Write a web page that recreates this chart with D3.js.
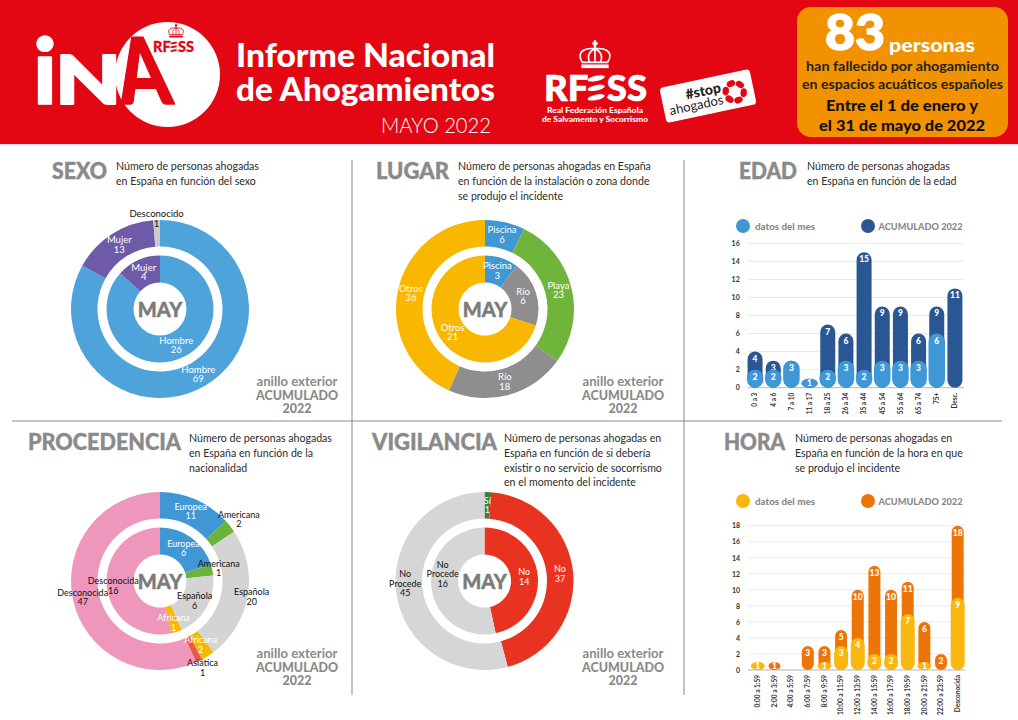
<!DOCTYPE html>
<html lang="es">
<head>
<meta charset="utf-8">
<title>Informe Nacional de Ahogamientos - Mayo 2022</title>
<script src="https://cdn.jsdelivr.net/npm/d3@7"></script>
<style>
  body { margin: 0; background: #fff; }
  svg { display: block; }
  text { font-family: Lato, "Open Sans", sans-serif; }
  .slice-label { text-anchor: middle; }
  .may { font-size: 20px; font-weight: 900; fill: #7b7b7b; stroke: #7b7b7b; stroke-width: 0.4; text-anchor: middle; }
  .section { font-size: 22px; font-weight: 900; fill: #8a8a8a; stroke: #8a8a8a; stroke-width: 0.4; }
  .desc { font-size: 10.6px; fill: #2b2b2b; }
  .ring-note { fill: #8a8a8a; text-anchor: middle; font-size: 12.5px; }
  .legend { fill: #8a8a8a; font-size: 10px; font-weight: 900; }
  .bar-label { font-size: 8.5px; font-weight: 900; fill: #fff; text-anchor: middle; }
  .axis text { font-size: 7px; font-weight: 700; fill: #333; }
  .axis path, .axis line { display: none; }
</style>
</head>
<body>
<div id="chart"></div>
<script>
// Sexo
const sexoNames = ["Hombre", "Mujer", "Desconocido"];
const sexoTotal = [69, 13, 1];
const sexoMonthNames = ["Hombre", "Mujer"];
const sexoMonth = [26, 4];
const sexoColors = ["#4fa3db", "#6f5aa8", "#cccccc"];
const sexoMonthColors = ["#4fa3db", "#6f5aa8"];

// Lugar
const lugarNames = ["Piscina", "Playa", "Río", "Otros"];
const lugarTotal = [6, 23, 18, 36];
const lugarMonthNames = ["Piscina", "Río", "Otros"];
const lugarMonth = [3, 6, 21];
const lugarColors = ["#3f97d6", "#6fb53c", "#8e8e8e", "#f9b700"];
const lugarMonthColors = ["#3f97d6", "#8e8e8e", "#f9b700"];

// Procedencia
const procNames = ["Europea", "Americana", "Española", "Africana", "Asiática", "Desconocida"];
const procTotal = [11, 2, 20, 2, 1, 47];
const procMonthNames = ["Europea", "Americana", "Española", "Africana", "Desconocida"];
const procMonth = [6, 1, 6, 1, 16];
const procColors = ["#3f97d6", "#6ab43c", "#d4d4d4", "#f9b700", "#e8584c", "#ef96bc"];
const procMonthColors = ["#3f97d6", "#6ab43c", "#d4d4d4", "#f9b700", "#ef96bc"];

// Vigilancia
const vigiNames = ["Sí", "No", "No Procede"];
const vigiTotal = [1, 37, 45];
const vigiMonthNames = ["No", "No Procede"];
const vigiMonth = [14, 16];
const vigiColors = ["#3f7f3a", "#e7331f", "#d6d6d6"];
const vigiMonthColors = ["#e7331f", "#d6d6d6"];

// Edad
const edadCats = ["0 a 3", "4 a 6", "7 a 10", "11 a 17", "18 a 25", "26 a 34", "35 a 44", "45 a 54", "55 a 64", "65 a 74", "75+", "Desc."];
const edadTotal = [4, 3, 3, 1, 7, 6, 15, 9, 9, 6, 9, 11];
const edadMonth = [2, 2, 3, 1, 2, 3, 2, 3, 3, 3, 6, 0];
const edadTicks = [0, 2, 4, 6, 8, 10, 12, 14, 16];

// Hora
const horaCats = ["0:00 a 1:59", "2:00 a 3:59", "4:00 a 5:59", "6:00 a 7:59", "8:00 a 9:59", "10:00 a 11:59", "12:00 a 13:59", "14:00 a 15:59", "16:00 a 17:59", "18:00 a 19:59", "20:00 a 21:59", "22:00 a 23:59", "Desconocida"];
const horaTotal = [1, 1, 0, 3, 3, 5, 10, 13, 10, 11, 6, 2, 18];
const horaMonth = [1, 0, 0, 0, 1, 3, 4, 2, 2, 7, 1, 0, 9];
const horaTicks = [0, 2, 4, 6, 8, 10, 12, 14, 16, 18];

const red = "#e30613";

let svg = d3.select("#chart").append("svg")
  .attr("width", 1018)
  .attr("height", 720);

svg.append("rect").attr("width", 1018).attr("height", 720).attr("fill", "#fff");

// ---- header ----
let header = svg.append("g");
header.append("rect").attr("width", 1018).attr("height", 144).attr("fill", red);
header.append("rect").attr("y", 144).attr("width", 1018).attr("height", 1.5).attr("fill", "#dcdcdc");

function addText(parent, x, y, str, size, weight, fill, anchor) {
  return parent.append("text")
    .attr("x", x).attr("y", y)
    .attr("font-size", size)
    .attr("font-weight", weight)
    .attr("fill", fill)
    .attr("text-anchor", anchor || "start")
    .text(str);
}

function squeeze(sel, width) {
  return sel.attr("textLength", width).attr("lengthAdjust", "spacingAndGlyphs");
}

// heavier than the heaviest installed weight
function fatten(sel, color, w) {
  return sel.attr("stroke", color).attr("stroke-width", w).attr("stroke-linejoin", "round");
}

// crown used in both logos
function crown(parent, cx, cy, s, color) {
  let g = parent.append("g")
    .attr("transform", `translate(${cx},${cy}) scale(${s})`)
    .attr("fill", "none")
    .attr("stroke", color)
    .attr("stroke-width", 1.6);
  g.append("rect").attr("x", -13).attr("y", 9).attr("width", 26).attr("height", 3.5).attr("fill", color).attr("stroke", "none");
  g.append("path").attr("d", "M-12,7 C-19,-4 -8,-7 0,-6 C8,-7 19,-4 12,7 Z");
  g.append("path").attr("d", "M-5,7 C-8,1 -5,-4 0,-6 C5,-4 8,1 5,7 M0,-6 L0,7");
  g.append("path").attr("d", "M0,-14 L0,-7 M-2.5,-11 L2.5,-11").attr("stroke-width", 2.4);
}

// RF + leaf E + SS, the E of the logo is three stacked leaves
function rfess(parent, x, y, size, color) {
  fatten(addText(parent, x, y, "RF", size, 900, color), color, size * 0.02);
  let w = size * 1.2;
  [-0.62, -0.36, -0.1].forEach(k => {
    parent.append("ellipse")
      .attr("cx", x + w + size * 0.23)
      .attr("cy", y + k * size)
      .attr("rx", size * 0.24)
      .attr("ry", size * 0.075)
      .attr("fill", color)
      .attr("transform", `rotate(-12 ${x + w + size * 0.23} ${y + k * size})`);
  });
  fatten(addText(parent, x + w + size * 0.52, y, "SS", size, 900, color), color, size * 0.02);
}

header.append("circle").attr("cx", 167.5).attr("cy", 74.5).attr("r", 52.5).attr("fill", "#fff");
fatten(addText(header, 0, 0, "i", 92, 900, "#fff"), "#fff", 1.5)
  .attr("transform", "translate(33,104)");
fatten(addText(header, 0, 0, "N", 66, 900, "#fff"), "#fff", 2)
  .attr("transform", "translate(55,103.5) scale(1.3,1)");
fatten(squeeze(addText(header, 0, 0, "A", 92, 900, red), 52), red, 1.5)
  .attr("transform", "translate(122,104) skewX(9)");
crown(header, 176, 31, 0.52, red);
rfess(header, 153, 52, 14.5, red);

squeeze(addText(header, 236, 67, "Informe Nacional", 32, 900, "#fff"), 259);
squeeze(addText(header, 236, 101, "de Ahogamientos", 32, 900, "#fff"), 259);
squeeze(addText(header, 381, 133, "MAYO 2022", 22, 300, "#fff"), 110);

crown(header, 595, 55, 1.05, "#fff");
rfess(header, 544, 101, 36.5, "#fff");
squeeze(addText(header, 547, 113, "Real Federación Española", 8, 900, "#fff"), 96);
squeeze(addText(header, 542, 122, "de Salvamento y Socorrismo", 8, 900, "#fff"), 106);

// #stop ahogados badge
let badge = header.append("g").attr("transform", "translate(708,96) rotate(-12)");
badge.append("rect").attr("x", -46).attr("y", -18).attr("width", 92).attr("height", 36).attr("rx", 4).attr("fill", "#fff");
addText(badge, 14, -1, "#stop", 14, 900, "#222", "end");
addText(badge, 14, 11, "ahogados", 13, 400, "#222", "end");
d3.range(6).forEach(i => {
  let a = i / 6 * 2 * Math.PI + 0.3;
  badge.append("ellipse")
    .attr("rx", 4.4).attr("ry", 3.2)
    .attr("fill", red)
    .attr("transform", `translate(${27 + 9 * Math.cos(a)},${1.5 + 9 * Math.sin(a)}) rotate(${a * 180 / Math.PI + 90})`);
});

// orange box
let box = header.append("g");
box.append("rect").attr("x", 797).attr("y", 7).attr("width", 211).attr("height", 130).attr("rx", 14).attr("fill", "#f39200");
fatten(squeeze(addText(box, 825, 50, "83", 50, 900, "#fff"), 60), "#fff", 1.5);
squeeze(addText(box, 889, 52, "personas", 19, 900, "#fff"), 86);
squeeze(addText(box, 806, 71, "han fallecido por ahogamiento", 14, 700, "#222"), 193);
squeeze(addText(box, 802, 89, "en espacios acuáticos españoles", 14, 700, "#222"), 201);
squeeze(addText(box, 826, 111, "Entre el 1 de enero y", 15.5, 900, "#111"), 152);
squeeze(addText(box, 819, 131, "el 31 de mayo de 2022", 15.5, 900, "#111"), 166);

// ---- dividers ----
let rules = svg.append("g").attr("stroke", "#8c8c8c").attr("stroke-width", 1);
rules.append("line").attr("x1", 12).attr("x2", 1002).attr("y1", 421).attr("y2", 421);
rules.append("line").attr("x1", 352).attr("x2", 352).attr("y1", 160).attr("y2", 695);
rules.append("line").attr("x1", 684).attr("x2", 684).attr("y1", 160).attr("y2", 695);

// ---- section titles ----
function section(title, tx, ty, tw, dx, dy, lines) {
  squeeze(svg.append("text").attr("class", "section").attr("x", tx).attr("y", ty).text(title), tw);
  lines.forEach((l, i) => {
    svg.append("text").attr("class", "desc").attr("x", dx).attr("y", dy + i * 14.8).text(l);
  });
}
section("SEXO", 52, 179, 55, 116, 170, ["Número de personas ahogadas", "en España en función del sexo"]);
section("LUGAR", 376, 179, 73, 458, 170, ["Número de personas ahogadas en España", "en función de la instalación o zona donde", "se produjo el incidente"]);
section("EDAD", 739, 179, 58, 807, 170, ["Número de personas ahogadas", "en España en función de la edad"]);
section("PROCEDENCIA", 28, 450, 153, 189, 442, ["Número de personas ahogadas", "en España en función de la", "nacionalidad"]);
section("VIGILANCIA", 372, 450, 125, 504, 442, ["Número de personas ahogadas en", "España en función de si debería", "existir o no servicio de socorrismo", "en el momento del incidente"]);
section("HORA", 724, 450, 61, 795, 442, ["Número de personas ahogadas en", "España en función de la hora en que", "se produjo el incidente"]);

function ringNote(x, y) {
  let rows = [["anillo exterior", 700, 81], ["ACUMULADO", 900, 82], ["2022", 900, 29]];
  rows.forEach((r, i) => {
    squeeze(svg.append("text").attr("class", "ring-note")
      .attr("x", x).attr("y", y + i * 13.5)
      .style("font-weight", r[1]).text(r[0]), r[2]);
  });
}
ringNote(297, 386);
ringNote(623, 386);
ringNote(297, 658);
ringNote(623, 658);

// ---- donuts ----
const pie = d3.pie().sort(null).startAngle(0).endAngle(2 * Math.PI);

// radius: name -> radius when the label does not sit on the ring centre
// shift: name -> vertical nudge
function ring(g, s, inner, outer, fontSize) {
  let arc = d3.arc().innerRadius(inner).outerRadius(outer);
  let arcs = pie(s.values);
  let radius = s.radius || {};
  let shift = s.shift || {};

  g.selectAll(null).data(arcs).enter().append("path")
    .attr("d", arc)
    .attr("fill", (d, i) => s.colors[i]);

  let labels = g.selectAll(null).data(arcs).enter().append("text")
    .attr("class", "slice-label")
    .attr("font-size", fontSize)
    .attr("fill", (d, i) => s.dark.includes(s.names[i]) ? "#111" : "#fff")
    .attr("transform", (d, i) => {
      let mid = (d.startAngle + d.endAngle) / 2;
      let r = radius[s.names[i]] || (inner + outer) / 2;
      let dy = shift[s.names[i]] || 0;
      return `translate(${r * Math.sin(mid)},${-r * Math.cos(mid) + dy})`;
    });

  labels.each(function (d, i) {
    // "No Procede" is broken in two lines on the picture
    let parts = s.names[i].split(" ").concat(d.value);
    let start = -(parts.length - 1) * 9.5 / 2 + 3;
    d3.select(this).selectAll("tspan").data(parts).enter().append("tspan")
      .attr("x", 0)
      .attr("y", (p, k) => start + k * 9.5)
      .text(p => p);
  });
}

function donut(cx, cy, total, month, fontSize) {
  let g = svg.append("g").attr("transform", `translate(${cx},${cy})`);
  ring(g, total, 62.5, 89, fontSize);
  ring(g, month, 26.5, 53.5, fontSize);
  g.append("text").attr("class", "may").attr("y", 7.5).text("MAY");
}

donut(160, 309,
  { names: sexoNames, values: sexoTotal, colors: sexoColors, dark: ["Desconocido"], radius: { Desconocido: 90 } },
  { names: sexoMonthNames, values: sexoMonth, colors: sexoMonthColors, dark: [] }, 9.5);

donut(485, 309,
  { names: lugarNames, values: lugarTotal, colors: lugarColors, dark: [] },
  { names: lugarMonthNames, values: lugarMonth, colors: lugarMonthColors, dark: [] }, 9.5);

donut(160, 581,
  { names: procNames, values: procTotal, colors: procColors,
    dark: ["Americana", "Española", "Asiática", "Desconocida"],
    radius: { Americana: 100, Española: 93, "Asiática": 97, Desconocida: 79 } },
  { names: procMonthNames, values: procMonth, colors: procMonthColors,
    dark: ["Americana", "Española", "Desconocida"],
    radius: { Americana: 60, Desconocida: 47, Africana: 44 } }, 9);

donut(484.5, 581,
  { names: vigiNames, values: vigiTotal, colors: vigiColors, dark: ["No Procede"], radius: { "No Procede": 80 }, shift: { "No Procede": -8 } },
  { names: vigiMonthNames, values: vigiMonth, colors: vigiMonthColors, dark: ["No Procede"], radius: { "No Procede": 42 }, shift: { "No Procede": -11 } }, 9);

// ---- bar charts ----
function pill(sel, y, bandCenter, w, vals) {
  sel.attr("x", d => bandCenter(d) - w / 2)
    .attr("y", d => y(vals[d]))
    .attr("width", w)
    .attr("height", d => y(0) - y(vals[d]))
    .attr("rx", w / 2)
    .attr("ry", d => Math.min(w / 2, (y(0) - y(vals[d])) / 2));
}

function barChart(opts) {
  let g = svg.append("g");
  let x = d3.scaleBand().domain(opts.cats).range(opts.xRange);
  let y = d3.scaleLinear().domain([0, opts.yMax]).range(opts.yRange);
  let idx = d3.range(opts.cats.length);
  let center = i => x(opts.cats[i]) + x.bandwidth() / 2;

  // legend
  g.append("circle").attr("cx", 743).attr("cy", opts.legendY).attr("r", 7).attr("fill", opts.monthColor);
  squeeze(g.append("text").attr("class", "legend").attr("x", 755).attr("y", opts.legendY + 3.5).text("datos del mes"), 60);
  g.append("circle").attr("cx", 868).attr("cy", opts.legendY).attr("r", 7).attr("fill", opts.totalColor);
  squeeze(g.append("text").attr("class", "legend").attr("x", 878.5).attr("y", opts.legendY + 3.5).text("ACUMULADO 2022"), 84);

  // grid + axes
  g.selectAll(null).data(opts.ticks).enter().append("line")
    .attr("x1", opts.gridX[0]).attr("x2", opts.gridX[1])
    .attr("y1", d => y(d)).attr("y2", d => y(d))
    .attr("stroke", d => d === 0 ? "#b5b5b5" : "#e9e9e9");

  g.append("g").attr("class", "axis")
    .attr("transform", `translate(${opts.gridX[0] - 8},0)`)
    .call(d3.axisLeft(y).tickValues(opts.ticks).tickSize(0).tickPadding(0));

  let xAxis = g.append("g").attr("class", "axis")
    .attr("transform", `translate(0,${opts.yRange[0]})`)
    .call(d3.axisBottom(x).tickSize(0));
  xAxis.selectAll("text")
    .attr("text-anchor", "end")
    .attr("transform", "rotate(-90)")
    .attr("x", -5)
    .attr("y", 0)
    .attr("dy", "0.35em")
    .style("font-size", "6.5px");

  // accumulated bars first, month bars sit on top of them
  let totalIdx = idx.filter(i => opts.total[i] > 0);
  g.selectAll(null).data(totalIdx).enter().append("rect")
    .call(pill, y, center, opts.totalWidth, opts.total)
    .attr("fill", opts.totalColor);
  g.selectAll(null).data(totalIdx).enter().append("text")
    .attr("class", "bar-label")
    .attr("x", center)
    .attr("y", i => Math.min(y(opts.total[i]) + 10, y(0) - 1.5))
    .text(i => opts.total[i]);

  let monthIdx = idx.filter(i => opts.month[i] > 0);
  g.selectAll(null).data(monthIdx).enter().append("rect")
    .call(pill, y, center, opts.monthWidth, opts.month)
    .attr("fill", opts.monthColor);
  g.selectAll(null).data(monthIdx).enter().append("text")
    .attr("class", "bar-label")
    .attr("x", center)
    .attr("y", i => Math.min(y(opts.month[i]) + 10, y(0) - 1.5))
    .text(i => opts.month[i]);
}

barChart({
  cats: edadCats, total: edadTotal, month: edadMonth, ticks: edadTicks, yMax: 16,
  xRange: [746, 964], yRange: [387.7, 243.3], gridX: [747.7, 964],
  totalWidth: 15, monthWidth: 16.5, legendY: 226,
  totalColor: "#2a5794", monthColor: "#3e97d6"
});

barChart({
  cats: horaCats, total: horaTotal, month: horaMonth, ticks: horaTicks, yMax: 18,
  xRange: [749.5, 966], yRange: [670, 525.7], gridX: [748, 965],
  totalWidth: 12, monthWidth: 14, legendY: 501,
  totalColor: "#ed7507", monthColor: "#f9b70f"
});
</script>
</body>
</html>
